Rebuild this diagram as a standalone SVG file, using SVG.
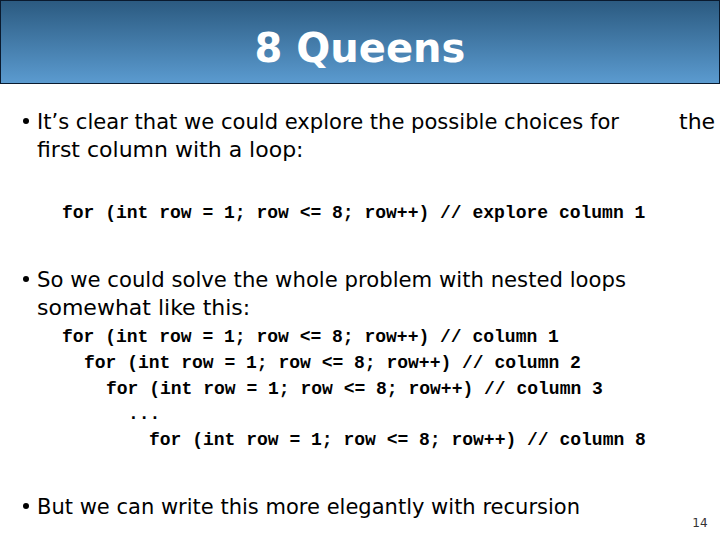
<svg xmlns="http://www.w3.org/2000/svg" width="720" height="540" viewBox="0 0 720 540">
<defs>
<linearGradient id="tg" x1="0" y1="0" x2="0" y2="1">
<stop offset="0" stop-color="#2b5a80"/>
<stop offset="1" stop-color="#5b9bd0"/>
</linearGradient>
<style>
.b{font-family:"DejaVu Sans","Liberation Sans",sans-serif;font-size:22px;fill:#000}
.c{font-family:"Liberation Mono","Courier New",monospace;font-size:18px;font-weight:bold;fill:#000;white-space:pre}
</style>
</defs>
<rect width="720" height="540" fill="#fff"/>
<rect x="0.5" y="0.5" width="719" height="83" fill="url(#tg)" stroke="#0a1a2e" stroke-width="1"/>
<text x="360" y="62" text-anchor="middle" font-family="'DejaVu Sans','Liberation Sans',sans-serif" font-weight="bold" font-size="40" fill="#fff">8 Queens</text>
<circle cx="26" cy="121" r="3" fill="#000"/>
<text class="b" x="37" y="129" textLength="582" lengthAdjust="spacingAndGlyphs">It’s clear that we could explore the possible choices for</text>
<text class="b" x="679" y="129">the</text>
<text class="b" x="37" y="157">first column with a loop:</text>
<text class="c" x="62" y="218">for (int row = 1; row &lt;= 8; row++) // explore column 1</text>
<circle cx="26" cy="279" r="3" fill="#000"/>
<text class="b" x="37" y="287" textLength="589" lengthAdjust="spacingAndGlyphs">So we could solve the whole problem with nested loops</text>
<text class="b" x="37" y="315">somewhat like this:</text>
<text class="c" x="62" y="342">for (int row = 1; row &lt;= 8; row++) // column 1</text>
<text class="c" x="84" y="368">for (int row = 1; row &lt;= 8; row++) // column 2</text>
<text class="c" x="106" y="394">for (int row = 1; row &lt;= 8; row++) // column 3</text>
<text class="c" x="128" y="419">...</text>
<text class="c" x="149" y="445">for (int row = 1; row &lt;= 8; row++) // column 8</text>
<circle cx="26" cy="506" r="3" fill="#000"/>
<text class="b" x="37" y="514" textLength="543" lengthAdjust="spacingAndGlyphs">But we can write this more elegantly with recursion</text>
<text x="700" y="527" text-anchor="middle" font-family="'DejaVu Sans',sans-serif" font-size="12" fill="#333">14</text>
</svg>
